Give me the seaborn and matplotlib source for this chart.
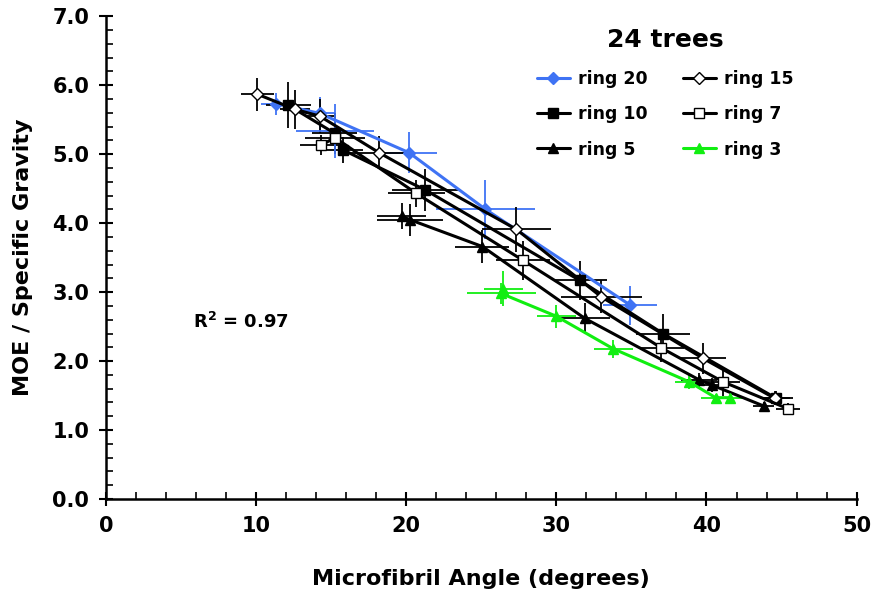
import numpy as np
import pandas as pd
import seaborn as sns
import matplotlib.pyplot as plt
from matplotlib.ticker import MultipleLocator, FormatStrFormatter

# -------------------------------
# Data: MFA (deg), MOE/SG, x and y error half-widths
# -------------------------------
r20_x = [11.36, 14.25, 20.20, 25.28, 34.93]
r20_y = [5.73, 5.59, 5.02, 4.20, 2.81]
r20_xerr = [1.0, 1.0, 1.86, 3.3, 1.8]
r20_yerr = [0.16, 0.24, 0.30, 0.43, 0.28]
# blue error cross with hidden marker
r20b_x = [15.25]
r20b_y = [5.34]
r20b_xerr = [2.6]
r20b_yerr = [0.39]

r15_x = [10.07, 12.58, 14.25, 18.20, 27.34, 33.00, 39.77, 44.55]
r15_y = [5.87, 5.65, 5.55, 5.02, 3.91, 2.93, 2.04, 1.46]
r15_xerr = [1.1, 1.0, 1.0, 2.0, 2.3, 2.7, 1.5, 1.0]
r15_yerr = [0.24, 0.28, 0.25, 0.24, 0.33, 0.24, 0.22, 0.1]

r10_x = [12.14, 15.25, 15.80, 21.28, 31.56, 37.10, 44.65]
r10_y = [5.71, 5.30, 5.06, 4.48, 3.17, 2.40, 1.46]
r10_xerr = [1.5, 1.5, 1.3, 2.2, 1.8, 1.8, 1.1]
r10_yerr = [0.33, 0.30, 0.19, 0.30, 0.28, 0.28, 0.1]

r7_x = [14.36, 15.25, 20.68, 27.78, 37.00, 41.10, 45.43]
r7_y = [5.13, 5.24, 4.43, 3.46, 2.19, 1.70, 1.31]
r7_xerr = [1.45, 2.0, 1.9, 1.8, 1.5, 1.1, 0.8]
r7_yerr = [0.15, 0.2, 0.2, 0.28, 0.2, 0.2, 0.08]

r5_x = [19.69, 20.24, 25.08, 31.89, 39.50, 40.40, 43.80]
r5_y = [4.10, 4.05, 3.66, 2.62, 1.73, 1.65, 1.35]
r5_xerr = [1.65, 2.2, 1.8, 1.7, 1.2, 1.1, 0.7]
r5_yerr = [0.19, 0.23, 0.24, 0.22, 0.1, 0.1, 0.05]

r3_x = [26.45, 26.33, 30.00, 33.78, 38.84, 40.61, 41.59]
r3_y = [3.05, 2.98, 2.65, 2.18, 1.70, 1.47, 1.47]
r3_xerr = [1.3, 2.3, 1.3, 1.3, 0.95, 1.0, 0.8]
r3_yerr = [0.25, 0.15, 0.17, 0.13, 0.1, 0.06, 0.05]

# -------------------------------
# Style
# -------------------------------
sns.set_theme(style="ticks")
plt.rcParams['font.family'] = ['DejaVu Sans']
plt.rcParams['font.weight'] = 'bold'
plt.rcParams['mathtext.default'] = 'bf'
for k in ['text.color', 'axes.labelcolor', 'xtick.color', 'ytick.color', 'axes.edgecolor']:
    plt.rcParams[k] = 'black'

blue = '#3f73f4'
green = '#11ee11'

series = [
    # label, x, y, xerr, yerr, color, marker, face, size
    ('ring 20', r20_x, r20_y, r20_xerr, r20_yerr, blue, 'D', blue, 6),
    ('ring 10', r10_x, r10_y, r10_xerr, r10_yerr, 'black', 's', 'black', 7.5),
    ('ring 5', r5_x, r5_y, r5_xerr, r5_yerr, 'black', '^', 'black', 7.5),
    ('ring 15', r15_x, r15_y, r15_xerr, r15_yerr, 'black', 'D', 'white', 6),
    ('ring 7', r7_x, r7_y, r7_xerr, r7_yerr, 'black', 's', 'white', 7.5),
    ('ring 3', r3_x, r3_y, r3_xerr, r3_yerr, green, '^', green, 7.5),
]

fig, ax = plt.subplots(figsize=(8.75, 5.97), dpi=100)
fig.subplots_adjust(left=0.121, right=0.979, top=0.973, bottom=0.164)

# -------------------------------
# Error bars
# -------------------------------
for label, x, y, xe, ye, col, mk, fc, ms in series:
    ax.errorbar(x, y, xerr=xe, yerr=ye, fmt='none', ecolor=col,
                elinewidth=1.3, capsize=0, zorder=2)
ax.errorbar(r20b_x, r20b_y, xerr=r20b_xerr, yerr=r20b_yerr, fmt='none',
            ecolor=blue, elinewidth=1.3, capsize=0, zorder=2)

# -------------------------------
# Lines and markers
# -------------------------------
for label, x, y, xe, ye, col, mk, fc, ms in series:
    df = pd.DataFrame({'mfa': x, 'moe': y})
    sns.lineplot(data=df, x='mfa', y='moe', ax=ax, sort=False, color=col,
                 linewidth=2.2, marker=mk, markersize=ms, markerfacecolor=fc,
                 markeredgecolor=col, markeredgewidth=1.0, label=label,
                 zorder=3)

# -------------------------------
# Axes
# -------------------------------
ax.set_xlim(0, 50)
ax.set_ylim(0, 7)
ax.xaxis.set_major_locator(MultipleLocator(10))
ax.xaxis.set_minor_locator(MultipleLocator(2))
ax.yaxis.set_major_locator(MultipleLocator(1))
ax.yaxis.set_minor_locator(MultipleLocator(0.2))
ax.yaxis.set_major_formatter(FormatStrFormatter('%.1f'))
ax.tick_params(which='major', direction='inout', length=10, width=1.5,
               color='black', labelsize=15, pad=7)
ax.tick_params(which='minor', direction='in', length=5, width=1.2, color='black')
for lab in ax.get_xticklabels() + ax.get_yticklabels():
    lab.set_fontweight('bold')
sns.despine(ax=ax)
for s in ['left', 'bottom']:
    ax.spines[s].set_linewidth(1.8)
    ax.spines[s].set_color('black')

ax.set_xlabel('Microfibril Angle (degrees)', fontsize=16, fontweight='bold', labelpad=24)
ax.set_ylabel('MOE / Specific Gravity', fontsize=16, fontweight='bold', labelpad=14)

ax.text(5.8, 2.57, r'R$^{2}$ = 0.97', fontsize=13, fontweight='bold',
        ha='left', va='center')

leg = ax.legend(ncol=2, loc='upper left', bbox_to_anchor=(0.56, 0.996),
                frameon=False, fontsize=12.5, handlelength=1.9,
                columnspacing=2.0, labelspacing=1.0, handletextpad=0.5,
                borderaxespad=0.2,
                title='24 trees', title_fontproperties={'weight': 'bold', 'size': 18})
for t in leg.get_texts():
    t.set_fontweight('bold')

plt.savefig('out.png', dpi=100)
plt.close()
